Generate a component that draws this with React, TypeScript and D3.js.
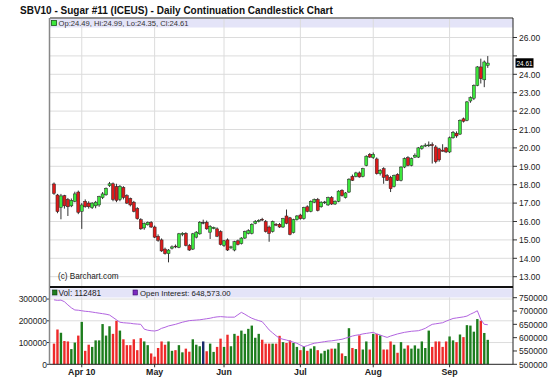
import React from "react";
import * as d3 from "d3";

const TITLE = "SBV10 - Sugar #11 (ICEUS) - Daily Continuation Candlestick Chart";
const START_DATE = "2010-03-22";
const HOLIDAYS = ["2010-04-02", "2010-05-31", "2010-07-05", "2010-09-06"];
const MONTH_LABELS: Record<number, string> = { 3: "Apr 10", 4: "May", 5: "Jun", 6: "Jul", 7: "Aug", 8: "Sep" };

const OPEN = [18.04,17.44,16.77,17.40,17.20,16.85,17.10,17.60,16.55,17.10,
 17.00,16.75,16.85,16.90,17.30,17.45,17.95,18.05,17.90,17.20,
 17.85,17.40,17.25,17.05,16.70,16.10,15.65,15.82,15.95,15.70,
 15.20,15.00,14.50,14.25,14.55,14.66,14.60,15.30,15.36,14.70,
 14.50,15.15,15.33,15.95,15.96,15.42,15.62,15.60,15.45,14.70,
 15.00,14.58,14.45,14.95,14.80,15.10,15.35,15.35,15.90,16.00,
 16.12,16.00,15.70,15.45,15.85,15.85,15.70,16.30,16.20,15.40,
 16.10,16.35,16.15,16.80,16.55,17.05,17.20,16.80,17.02,16.90,
 17.30,16.95,17.10,17.70,17.30,17.60,18.45,18.45,18.64,18.45,
 19.05,19.65,19.47,19.40,18.60,18.87,18.50,18.40,17.90,18.56,
 18.24,18.96,19.47,19.05,19.50,19.50,19.96,20.10,20.12,20.18,
 20.05,19.95,19.88,20.00,19.78,20.55,20.80,20.75,21.58,21.50,
 22.55,22.70,23.40,24.40,23.70,24.49];
const HIGH = [18.12,17.50,17.50,17.45,17.28,17.25,17.62,17.68,17.00,17.20,
 17.10,17.05,17.12,17.40,17.60,17.85,18.15,18.12,18.05,17.98,
 17.92,17.48,17.30,17.12,16.78,16.18,15.95,16.00,16.02,15.78,
 15.30,15.08,14.58,14.50,14.70,14.75,15.38,15.42,15.42,14.78,
 15.38,15.48,16.02,16.10,16.05,15.80,15.72,15.68,15.52,15.00,
 15.08,14.68,14.95,15.02,15.15,15.50,15.58,15.90,16.08,16.12,
 16.20,16.08,15.78,16.05,15.92,15.92,16.20,16.65,16.25,16.15,
 16.35,16.42,16.80,16.88,17.15,17.25,17.28,17.10,17.12,17.35,
 17.38,17.15,17.70,17.75,17.60,18.35,18.55,18.70,18.72,18.92,
 19.60,19.72,19.75,19.48,18.85,18.95,18.58,18.48,18.55,18.62,
 19.00,19.48,19.55,19.48,19.70,20.05,20.15,20.25,20.35,20.30,
 20.15,20.00,20.20,20.05,20.62,20.92,20.90,21.55,21.65,22.55,
 22.80,23.45,24.45,24.85,24.75,24.99];
const LOW = [17.45,16.45,16.12,16.70,16.30,16.78,17.05,16.40,15.60,16.75,
 16.70,16.68,16.72,16.80,17.22,17.40,17.88,17.10,17.05,17.10,
 17.20,16.95,16.82,16.50,16.10,15.55,15.55,15.78,15.65,15.10,
 14.90,14.35,14.20,13.78,14.48,14.55,14.55,15.20,14.65,14.40,
 14.45,15.08,15.28,15.85,15.55,15.05,15.58,15.15,14.70,14.62,
 14.40,14.50,14.38,14.70,14.75,15.05,15.30,15.30,15.85,15.95,
 16.02,15.40,14.90,15.40,15.75,15.65,15.65,15.85,15.25,15.35,
 16.05,16.10,16.10,16.50,16.50,17.00,16.55,16.75,16.95,16.85,
 16.90,16.90,17.05,17.35,17.25,17.55,18.20,18.40,18.38,18.40,
 19.00,19.45,19.40,18.55,18.50,18.05,18.20,17.60,17.85,18.20,
 18.18,18.90,19.00,19.00,19.45,19.45,19.90,20.05,20.05,19.15,
 19.16,19.25,19.80,19.72,19.72,20.50,20.55,20.70,21.38,21.45,
 22.45,22.60,23.35,23.50,23.30,24.35];
const CLOSE = [17.53,16.54,17.39,16.85,16.80,17.15,17.50,16.50,16.90,16.80,
 16.80,17.00,17.05,17.35,17.50,17.80,18.05,17.20,17.15,17.90,
 17.30,17.00,16.90,16.55,16.15,15.60,15.90,15.95,15.70,15.15,
 14.98,14.40,14.25,14.45,14.62,14.62,15.33,15.36,14.70,14.45,
 15.33,15.42,15.96,15.95,15.60,15.73,15.68,15.20,14.75,14.95,
 14.45,14.62,14.90,14.75,15.10,15.45,15.50,15.85,16.00,16.06,
 16.08,15.45,15.35,16.00,15.80,15.70,16.15,15.90,15.30,16.10,
 16.30,16.15,16.75,16.55,17.10,17.20,16.60,17.05,17.06,17.30,
 16.95,17.10,17.65,17.40,17.55,18.30,18.24,18.64,18.42,18.87,
 19.55,19.50,19.65,18.60,18.78,18.40,18.24,17.78,18.50,18.24,
 18.96,19.42,19.05,19.42,19.60,20.00,20.10,20.15,20.16,20.12,
 19.25,19.35,19.82,19.78,20.55,20.85,20.65,21.50,21.45,22.50,
 22.73,23.40,24.40,23.76,24.67,24.61];
const VOLUME = [95000,160000,145000,107000,105000,70000,100000,132000,195000,62000,
 90000,80000,110000,110000,185000,132000,175000,140000,200000,155000,
 115000,88000,88000,115000,65000,120000,105000,88000,50000,35000,
 75000,105000,90000,105000,62000,65000,88000,55000,72000,58000,
 115000,90000,83000,105000,60000,95000,57000,80000,118000,80000,
 136000,83000,140000,131000,155000,140000,163000,178000,122000,140000,
 113000,95000,95000,95000,95000,131000,102000,98000,110000,98000,
 80000,65000,83000,62000,72000,83000,65000,50000,62000,68000,
 72000,72000,98000,50000,38000,166000,75000,70000,133000,68000,
 105000,68000,140000,140000,133000,68000,68000,105000,90000,53000,
 102000,72000,87000,72000,87000,72000,105000,75000,155000,80000,
 105000,105000,80000,105000,128000,110000,102000,137000,125000,180000,
 178000,150000,208000,200000,144000,112481];
const OPEN_INTEREST = [742000,740000,741000,735000,723000,712000,704000,703000,701000,699000,
 698000,696000,694000,692000,690000,688000,685000,676000,667000,658000,
 656000,655000,654000,652000,651000,650000,632000,628000,626000,625000,
 628000,635000,639000,644000,647000,650000,654000,658000,661000,664000,
 665000,666000,667000,669000,671000,673000,676000,678000,679000,678000,
 677000,677000,677000,686000,695000,688000,680000,673000,668000,664000,
 660000,645000,629000,618000,607000,598000,594000,591000,587000,583000,
 579000,572000,566000,570000,575000,579000,581000,583000,585000,587000,
 588000,590000,592000,594000,598000,602000,606000,609000,611000,614000,
 616000,618000,620000,614000,610000,605000,601000,606000,610000,614000,
 617000,620000,622000,624000,625000,626000,630000,635000,643000,650000,
 652000,654000,656000,662000,667000,672000,674000,676000,678000,681000,
 688000,694000,701000,668000,650000,648573];

const PRICE_TICKS = [13, 14, 15, 16, 17, 18, 19, 20, 21, 22, 23, 24, 25, 26];
const VOL_TICKS = [0, 100000, 200000, 300000];
const OI_TICKS = [500000, 550000, 600000, 650000, 700000, 750000];

const FONT = "'Liberation Sans', Arial, sans-serif";

function tradingDays(n: number): Date[] {
  const out: Date[] = [];
  const d = new Date(START_DATE + "T12:00:00");
  while (out.length < n) {
    const wd = d.getDay();
    const iso = d3.timeFormat("%Y-%m-%d")(d);
    if (wd !== 0 && wd !== 6 && !HOLIDAYS.includes(iso)) out.push(new Date(d));
    d.setDate(d.getDate() + 1);
  }
  return out;
}

export default function App() {
  const n = CLOSE.length;
  const dates = tradingDays(n);
  const L = 50, R = 513;
  const mainTop = 18, mainBot = 287, volTop = 287, volBot = 364.3;

  const x = d3.scaleLinear().domain([0, n - 1]).range([54, 54 + (n - 1) * 3.47]);
  const yP = d3.scaleLinear().domain([13, 26]).range([276.7, 37.5]);
  const yV = d3.scaleLinear().domain([0, 300000]).range([volBot, 299.05]);
  const yOI = d3.scaleLinear().domain([500000, 750000]).range([volBot, 297.7]);

  const monthStarts: { i: number; label: string }[] = [];
  dates.forEach((d, i) => {
    if (i > 0 && d.getMonth() !== dates[i - 1].getMonth()) monthStarts.push({ i, label: MONTH_LABELS[d.getMonth()] });
  });

  const dir = (i: number) => (CLOSE[i] > OPEN[i] ? 1 : CLOSE[i] < OPEN[i] ? -1 : 0);
  const candleFill = (i: number) => (dir(i) > 0 ? "#3ce63c" : dir(i) < 0 ? "#dd1a1a" : "#222");
  const volFill = (i: number) => (dir(i) > 0 ? "#1d7d1d" : dir(i) < 0 ? "#ee2a2a" : "#1a2a6a");

  const oiLine = d3.line<number>().x((_, i) => x(i)).y((v) => yOI(v));
  const last = n - 1;
  const fmt2 = d3.format(".2f");
  const lastY = yP(CLOSE[last]);

  return (
    <svg width={550} height={382} style={{ position: "absolute", left: 0, top: 0, background: "#fff" }} fontFamily={FONT}>
      <rect x={0} y={0} width={550} height={382} fill="#fff" />
      <text x={20} y={14} fontSize={10} fontWeight="bold" fill="#111">{TITLE}</text>

      {/* main panel */}
      <rect x={L} y={mainTop} width={R - L} height={mainBot - mainTop} fill="#fff" />
      <rect x={L} y={mainTop + 1} width={R - L} height={8.5} fill="#e4e4f8" />
      {PRICE_TICKS.map((t) => (
        <line key={"pg" + t} x1={L} x2={R} y1={yP(t)} y2={yP(t)} stroke="#dcdcdc" strokeWidth={1} />
      ))}
      {monthStarts.map((m) => (
        <line key={"vg" + m.i} x1={x(m.i)} x2={x(m.i)} y1={mainTop + 1} y2={volBot} stroke="#dcdcdc" strokeWidth={1} />
      ))}
      {/* volume legend band and grid */}
      <rect x={L} y={volTop + 1.5} width={R - L} height={9} fill="#e4e4f8" />
      {VOL_TICKS.slice(1).map((t) => (
        <line key={"vlg" + t} x1={L} x2={R} y1={yV(t)} y2={yV(t)} stroke="#dcdcdc" strokeWidth={1} />
      ))}

      {/* candles */}
      {CLOSE.map((c, i) => {
        const cx = x(i);
        const top = yP(Math.max(OPEN[i], c));
        const bot = yP(Math.min(OPEN[i], c));
        return (
          <g key={"c" + i}>
            <line x1={cx} x2={cx} y1={yP(HIGH[i])} y2={yP(LOW[i])} stroke="#333" strokeWidth={1} />
            <rect x={cx - 1.5} y={top} width={3} height={Math.max(bot - top, 0.8)} fill={candleFill(i)} stroke="#222" strokeWidth={0.5} />
          </g>
        );
      })}

      {/* legend */}
      <rect x={51.5} y={20.5} width={5} height={5} fill="#3ce63c" stroke="#1a5a1a" strokeWidth={0.8} />
      <text x={58.5} y={26.2} fontSize={7.6} fill="#333">
        {`Op:${fmt2(OPEN[last])}, Hi:${fmt2(HIGH[last])}, Lo:${fmt2(LOW[last])}, Cl:${fmt2(CLOSE[last])}`}
      </text>
      <text x={58} y={279} fontSize={8.2} fill="#222">(c) Barchart.com</text>

      {/* price axis */}
      {PRICE_TICKS.map((t) => (
        <g key={"pt" + t}>
          <line x1={R} x2={R + 4} y1={yP(t)} y2={yP(t)} stroke="#333" />
          {Math.abs(yP(t) - lastY) > 9 && (
            <text x={519} y={yP(t) + 3.2} fontSize={8.5} fill="#222">{fmt2(t)}</text>
          )}
        </g>
      ))}
      <rect x={515.5} y={lastY - 4.8} width={18} height={9.4} fill="#000" />
      <text x={516.5} y={lastY + 3.1} fontSize={8} fill="#fff" textLength={16} lengthAdjust="spacingAndGlyphs">{fmt2(CLOSE[last])}</text>

      {/* volume bars */}
      {VOLUME.map((v, i) => (
        <rect key={"v" + i} x={x(i) - 1.2} y={yV(v)} width={2.4} height={volBot - yV(v)} fill={volFill(i)} />
      ))}
      <path d={oiLine(OPEN_INTEREST) || ""} fill="none" stroke="#b264e0" strokeWidth={1} />

      <rect x={52.5} y={290} width={4.5} height={5} fill="#1d7d1d" stroke="#0a3a0a" strokeWidth={0.6} />
      <text x={58.5} y={296} fontSize={8.2} fill="#222">{`Vol: ${VOLUME[last]}`}</text>
      <rect x={133} y={290} width={4.5} height={5} fill="#7a2ac0" stroke="#3a0a6a" strokeWidth={0.6} />
      <text x={140} y={296} fontSize={7.8} fill="#222">{`Open Interest: ${d3.format(",.2f")(OPEN_INTEREST[last])}`}</text>

      {VOL_TICKS.map((t) => (
        <g key={"vt" + t}>
          <line x1={L - 3} x2={L} y1={yV(t)} y2={yV(t)} stroke="#333" />
          <text x={47} y={yV(t) + 3.2} fontSize={8.5} fill="#222" textAnchor="end">{t}</text>
        </g>
      ))}
      {OI_TICKS.map((t) => (
        <g key={"ot" + t}>
          <line x1={R} x2={R + 4} y1={yOI(t)} y2={yOI(t)} stroke="#333" />
          <text x={519} y={yOI(t) + 3.2} fontSize={8.5} fill="#222">{t}</text>
        </g>
      ))}

      {/* x labels */}
      {monthStarts.map((m) => (
        <g key={"xl" + m.i}>
          <line x1={x(m.i)} x2={x(m.i)} y1={volBot} y2={volBot + 3} stroke="#333" />
          <text x={x(m.i)} y={375} fontSize={8.8} fontWeight="bold" fill="#222" textAnchor="middle">{m.label}</text>
        </g>
      ))}

      {/* frames */}
      <line x1={L} x2={R} y1={mainTop} y2={mainTop} stroke="#222" strokeWidth={1} />
      <line x1={R} x2={R} y1={mainTop} y2={volBot} stroke="#222" strokeWidth={1} />
      <line x1={L - 0.5} x2={L - 0.5} y1={mainTop} y2={volBot} stroke="#888" strokeWidth={1.5} />
      <line x1={L} x2={R} y1={mainBot} y2={mainBot} stroke="#111" strokeWidth={1.8} />
      <line x1={L} x2={R} y1={volBot} y2={volBot} stroke="#222" strokeWidth={1} />
    </svg>
  );
}
